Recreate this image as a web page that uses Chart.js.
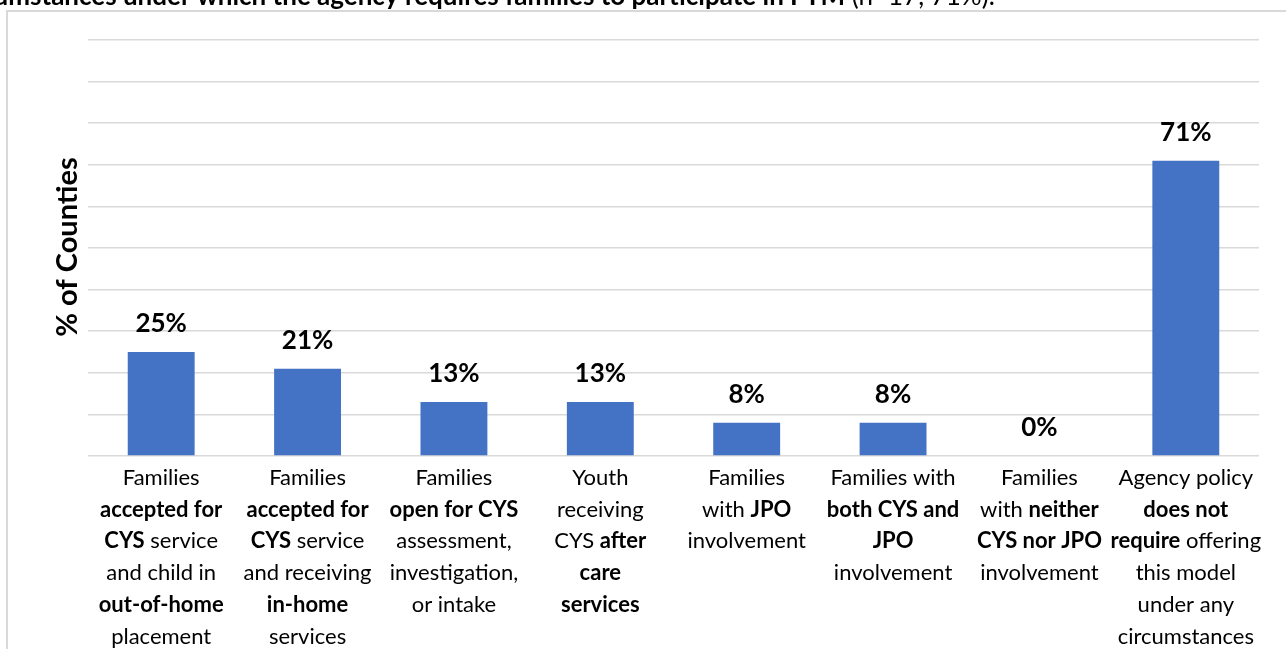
<!DOCTYPE html>
<html>
<head>
<meta charset="utf-8">
<script src="https://cdn.jsdelivr.net/npm/chart.js@4.4.1/dist/chart.umd.min.js"></script>
<style>
  html, body { margin: 0; padding: 0; background: #ffffff; }
  #wrap { position: relative; width: 1286px; height: 649px; overflow: hidden; }
</style>
</head>
<body>
<div id="wrap"><canvas id="chart"></canvas></div>
<script>
// Category labels, one entry per line; **text** marks bold runs.
const categoryLines = [
  ["Families", "**accepted for**", "**CYS** service", "and child in", "**out-of-home**", "placement"],
  ["Families", "**accepted for**", "**CYS** service", "and receiving", "**in-home**", "services"],
  ["Families", "**open for CYS**", "assessment,", "investigation,", "or intake"],
  ["Youth", "receiving", "CYS **after**", "**care**", "**services**"],
  ["Families", "with **JPO**", "involvement"],
  ["Families with", "**both CYS and**", "**JPO**", "involvement"],
  ["Families", "with **neither**", "**CYS nor JPO**", "involvement"],
  ["Agency policy", "**does not**", "**require** offering", "this model", "under any", "circumstances"]
];
const categories = categoryLines.map(lines => lines.join(" ").replace(/\*\*/g, ""));
const percentCounties = [25, 21, 13, 13, 8, 8, 0, 71];
const valueLabels = ["25%", "21%", "13%", "13%", "8%", "8%", "0%", "71%"];
const titleBold = "Circumstances under which the agency requires families to participate in FTM";
const titleNormal = " (n=17, 71%).";
const yTitle = "% of Counties";

const FONT = "Lato, 'Open Sans', sans-serif";
const BAR_COLOR = "#4472C4";
const GRID_COLOR = "#d9d9d9";

function parseSegments(line) {
  const parts = line.split("**");
  return parts.map((t, i) => ({ text: t, bold: i % 2 === 1 })).filter(s => s.text.length);
}

const annotate = {
  id: "annotate",
  beforeDraw(chart) {
    const ctx = chart.ctx;
    ctx.save();
    ctx.strokeStyle = GRID_COLOR;
    ctx.lineWidth = 2;
    ctx.beginPath();
    ctx.moveTo(7, 649);
    ctx.lineTo(7, 11);
    ctx.lineTo(1286, 11);
    ctx.stroke();
    ctx.restore();
  },
  afterDraw(chart) {
    const ctx = chart.ctx;
    const xs = chart.scales.x;
    const ys = chart.scales.y;
    ctx.save();
    ctx.fillStyle = "#000000";

    // heading, running off the top-left edge
    ctx.textBaseline = "alphabetic";
    ctx.font = "bold 26px " + FONT;
    ctx.textAlign = "right";
    ctx.fillText(titleBold, 845, 5);
    ctx.font = "26px " + FONT;
    ctx.textAlign = "left";
    ctx.fillText(titleNormal, 845, 5);

    // vertical axis title
    ctx.save();
    ctx.translate(77, 247);
    ctx.rotate(-Math.PI / 2);
    ctx.font = "bold 29px " + FONT;
    ctx.textAlign = "center";
    ctx.fillText(yTitle, 0, 0);
    ctx.restore();

    // value labels above bars
    ctx.font = "bold 26px " + FONT;
    ctx.textAlign = "center";
    percentCounties.forEach((v, i) => {
      const x = xs.getPixelForValue(i);
      const y = ys.getPixelForValue(v);
      ctx.fillText(valueLabels[i], x, y - 20);
    });

    // multi-line category labels with bold runs
    ctx.textAlign = "left";
    const lineH = 31.7;
    const firstBase = ys.getPixelForValue(0) + 29;
    categoryLines.forEach((lines, i) => {
      const cx = xs.getPixelForValue(i);
      lines.forEach((line, j) => {
        const segs = parseSegments(line);
        let total = 0;
        segs.forEach(s => {
          ctx.font = (s.bold ? "bold " : "") + "22px " + FONT;
          s.w = ctx.measureText(s.text).width;
          total += s.w;
        });
        let x = cx - total / 2;
        const y = firstBase + j * lineH;
        segs.forEach(s => {
          ctx.font = (s.bold ? "bold " : "") + "22px " + FONT;
          ctx.fillText(s.text, x, y);
          x += s.w;
        });
      });
    });
    ctx.restore();
  }
};

new Chart(document.getElementById("chart"), {
  type: "bar",
  data: {
    labels: categories,
    datasets: [{
      data: percentCounties,
      backgroundColor: BAR_COLOR,
      borderWidth: 0,
      barPercentage: 0.457,
      categoryPercentage: 1
    }]
  },
  options: {
    responsive: true,
    maintainAspectRatio: false,
    animation: false,
    events: [],
    layout: { padding: { left: 88, right: 27, top: 40, bottom: 193 } },
    plugins: {
      legend: { display: false },
      tooltip: { enabled: false },
      title: { display: false }
    },
    scales: {
      x: {
        grid: { display: false, drawTicks: false },
        border: { display: false },
        ticks: { display: false },
        afterFit(s) { s.height = 0; }
      },
      y: {
        min: 0,
        max: 100,
        ticks: { display: false, stepSize: 10 },
        grid: { color: GRID_COLOR, lineWidth: 1.5, drawTicks: false },
        border: { display: false },
        afterFit(s) { s.width = 0; }
      }
    }
  },
  plugins: [annotate]
});
</script>
</body>
</html>
